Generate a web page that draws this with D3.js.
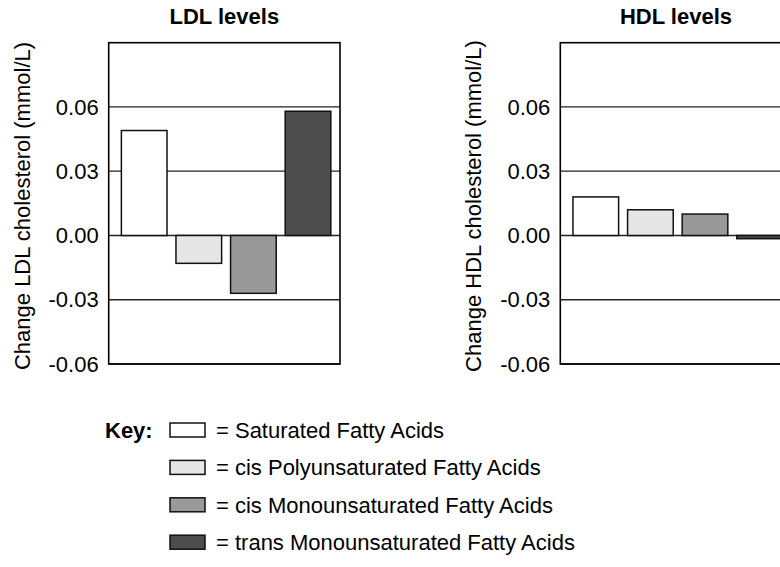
<!DOCTYPE html>
<html>
<head>
<meta charset="utf-8">
<script src="https://cdn.jsdelivr.net/npm/d3@7"></script>
<style>
  html, body { margin: 0; padding: 0; background: #fff; }
  svg { display: block; font-family: "Liberation Sans", Arial, Helvetica, sans-serif; }
</style>
</head>
<body>
<svg id="chart" width="780" height="567"></svg>
<script>
// ---- data ----
const categories = [
  "Saturated Fatty Acids",
  "cis Polyunsaturated Fatty Acids",
  "cis Monounsaturated Fatty Acids",
  "trans Monounsaturated Fatty Acids"
];
const ldlValues = [0.049, -0.013, -0.027, 0.058];
const hdlValues = [0.018, 0.012, 0.010, -0.0015];
const yTicks = [-0.06, -0.03, 0.00, 0.03, 0.06];
const yDomain = [-0.06, 0.09];
const panelTitles = ["LDL levels", "HDL levels"];
const axisTitles = ["Change LDL cholesterol (mmol/L)", "Change HDL cholesterol (mmol/L)"];
const fills = ["#ffffff", "#e6e6e6", "#999999", "#4d4d4d"];

// ---- layout ----
const svg = d3.select("#chart");
const plotTop = 42.7, plotBottom = 364, panelW = 231.3;
const panelLefts = [108.7, 560.3];
const fontSize = 22;

const y = d3.scaleLinear().domain(yDomain).range([plotBottom, plotTop]);
const x = d3.scaleBand().domain(categories).range([0, panelW])
  .paddingInner(0.164).paddingOuter(0.2).align(0.58);

const panels = [ldlValues, hdlValues];

panels.forEach((vals, pi) => {
  const left = panelLefts[pi];
  const g = svg.append("g").attr("transform", `translate(${left},0)`);

  // gridlines
  g.selectAll("line.grid").data(yTicks).enter().append("line")
    .attr("class", "grid")
    .attr("x1", 0).attr("x2", panelW)
    .attr("y1", d => y(d)).attr("y2", d => y(d))
    .attr("stroke", "#222").attr("stroke-width", 1.3);

  // bars
  g.selectAll("rect.bar").data(vals).enter().append("rect")
    .attr("class", "bar")
    .attr("x", (d, i) => x(categories[i]))
    .attr("width", x.bandwidth())
    .attr("y", d => y(Math.max(0, d)))
    .attr("height", d => Math.abs(y(d) - y(0)))
    .attr("fill", (d, i) => fills[i])
    .attr("stroke", "#111").attr("stroke-width", 1.5);

  // frame
  g.append("rect")
    .attr("x", 0).attr("y", plotTop)
    .attr("width", panelW).attr("height", plotBottom - plotTop)
    .attr("fill", "none").attr("stroke", "#000").attr("stroke-width", 1.6);

  // y axis
  const axis = d3.axisLeft(y).tickValues(yTicks)
    .tickFormat(d => d.toFixed(2)).tickSize(0).tickPadding(10);
  const ag = g.append("g").call(axis);
  ag.select(".domain").remove();
  ag.selectAll("text").attr("font-size", fontSize)
    .attr("font-family", "Liberation Sans, Arial, sans-serif").attr("fill", "#000");

  // title
  g.append("text")
    .attr("x", panelW / 2).attr("y", 24)
    .attr("text-anchor", "middle")
    .attr("font-size", fontSize).attr("font-weight", "bold")
    .text(panelTitles[pi]);

  // y title
  g.append("text")
    .attr("transform", `translate(${29.5 - panelLefts[0]},${206}) rotate(-90)`)
    .attr("text-anchor", "middle")
    .attr("font-size", fontSize)
    .text(axisTitles[pi]);
});

// ---- legend ----
const legendTop = 430, rowStep = 37.4;
svg.append("text")
  .attr("x", 105).attr("y", legendTop).attr("dy", "0.35em")
  .attr("font-size", fontSize).attr("font-weight", "bold")
  .text("Key:");
const lg = svg.selectAll("g.leg").data(categories).enter().append("g")
  .attr("class", "leg")
  .attr("transform", (d, i) => `translate(0,${legendTop + i * rowStep})`);
lg.append("rect")
  .attr("x", 170).attr("y", -7).attr("width", 35).attr("height", 14)
  .attr("fill", (d, i) => fills[i])
  .attr("stroke", "#111").attr("stroke-width", 1.5);
lg.append("text")
  .attr("x", 216).attr("y", 0).attr("dy", "0.35em")
  .attr("font-size", fontSize)
  .text(d => "= " + d);
</script>
</body>
</html>
